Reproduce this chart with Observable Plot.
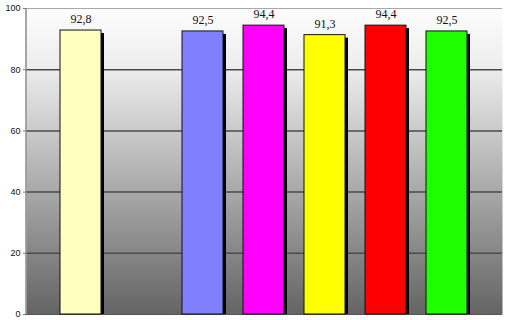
<!DOCTYPE html>
<html>
<head>
<meta charset="utf-8">
<script src="https://cdn.jsdelivr.net/npm/d3@7"></script>
<script src="https://cdn.jsdelivr.net/npm/@observablehq/plot@0.6"></script>
<style>
  html, body { margin: 0; padding: 0; background: #fff; }
  #chart svg { display: block; }
</style>
</head>
<body>
<div id="chart"></div>
<script>
const categories = ["C1", "C2", "C3", "C4", "C5", "C6", "C7"];
const barCategories = ["C1", "C3", "C4", "C5", "C6", "C7"];
const values = [92.8, 92.5, 94.4, 91.3, 94.4, 92.5];
const colors = ["#ffffc0", "#8080ff", "#ff00ff", "#ffff00", "#ff0000", "#1fff00"];
const yTicks = [0, 20, 40, 60, 80, 100];
const gridValues = [20, 40, 60, 80];

const data = barCategories.map((c, i) => ({ cat: c, value: values[i], color: colors[i] }));
const fmt = v => String(v).replace(".", ",");

const mTop = 8, mBottom = 6, mLeft = 26, mRight = 7;

const plot = Plot.plot({
  width: 509,
  height: 320,
  marginTop: mTop,
  marginBottom: mBottom,
  marginLeft: mLeft,
  marginRight: mRight,
  style: { fontFamily: "Liberation Sans, Arial, sans-serif", background: "transparent" },
  x: { domain: categories, paddingInner: 0.32, paddingOuter: 0.54, axis: null },
  y: { domain: [0, 100], ticks: yTicks, label: null, axis: null },
  marks: [
    Plot.frame({ fill: "url(#bggrad)", stroke: null }),
    Plot.ruleY(gridValues, { stroke: "#4a4a4a", strokeWidth: 1.5 }),
    Plot.ruleY([100], { stroke: "#a8a8a8", strokeWidth: 1 }),
    Plot.ruleY([0], { stroke: "#555", strokeWidth: 1 }),
    Plot.barY(data, { x: "cat", y: "value", fill: "#000", dx: 3, dy: 3, clip: true }),
    Plot.barY(data, { x: "cat", y: "value", fill: "color", stroke: "#111", strokeWidth: 1 }),
    Plot.text(data, { x: "cat", y: "value", text: d => fmt(d.value), dy: -11,
      fontFamily: "Liberation Serif, Times New Roman, serif", fontSize: 12, fill: "#111" }),
    Plot.axisY({ ticks: yTicks, label: null, tickSize: 3, tickPadding: 3, fontSize: 9, fill: "#111", stroke: "#777" })
  ]
});

const svg = d3.select(plot);
const defs = svg.insert("defs", ":first-child");
const g = defs.append("linearGradient").attr("id", "bggrad")
  .attr("x1", 0).attr("y1", 0).attr("x2", 0).attr("y2", 1);
g.append("stop").attr("offset", "0%").attr("stop-color", "#fdfdfd");
g.append("stop").attr("offset", "20%").attr("stop-color", "#ececec");
g.append("stop").attr("offset", "60%").attr("stop-color", "#a8a8a8");
g.append("stop").attr("offset", "100%").attr("stop-color", "#646464");

svg.append("line").attr("x1", mLeft).attr("x2", mLeft).attr("y1", mTop).attr("y2", 320 - mBottom)
  .attr("stroke", "#8a8a8a").attr("stroke-width", 1.5);

document.getElementById("chart").appendChild(plot);
</script>
</body>
</html>
